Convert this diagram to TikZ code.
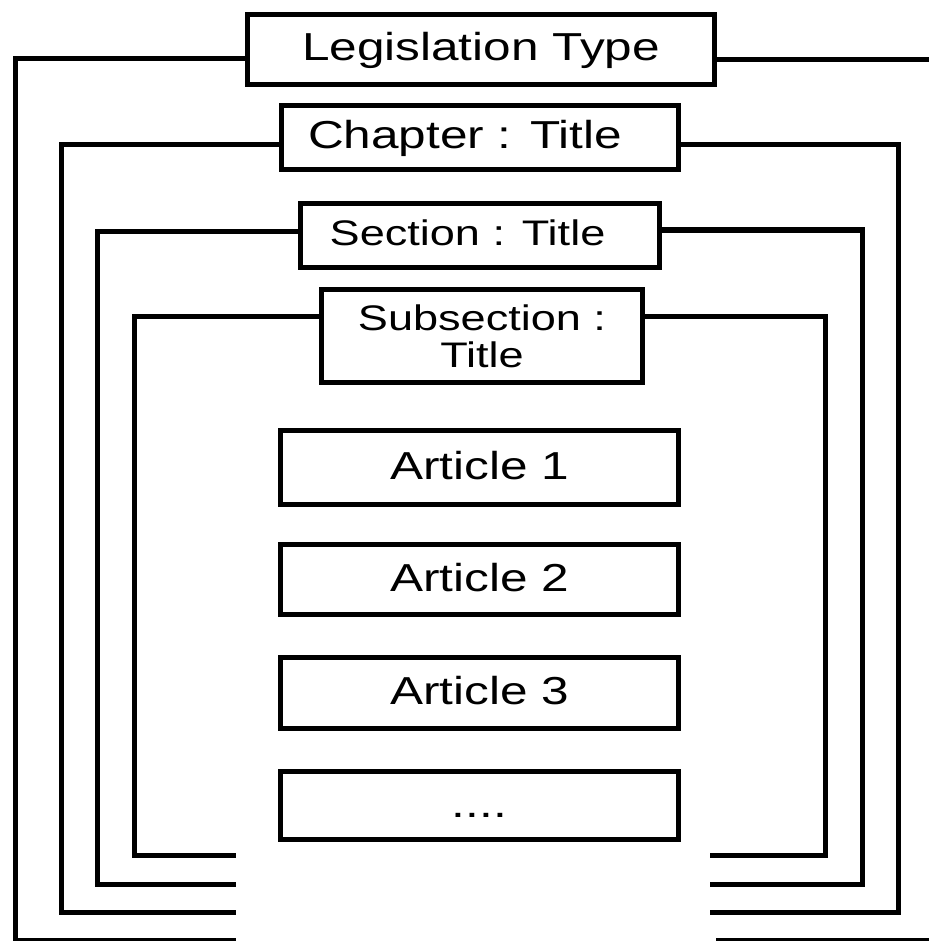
\documentclass[tikz,border=0pt]{standalone}
\usepackage{fontspec}
\setmainfont{Liberation Sans}[FakeStretch=1.27]
\begin{document}
\begin{tikzpicture}[x=1pt,y=-1pt,
  thick line/.style={line width=5pt},
  box/.style={draw, thick line, rectangle, inner sep=0pt, text depth=5pt},
  big/.style={font=\fontsize{39}{47}\selectfont, text height=28pt},
  mid/.style={font=\fontsize{35.5}{37}\selectfont, text height=25.5pt},
  link/.style={thick line}]
\useasboundingbox (0,0) rectangle (929,941);

% nested headings
\node[box, big, minimum width=467pt, minimum height=70pt] (leg)  at (481,49.5)  {Legislation Type};
\node[box, big, minimum width=397pt, minimum height=64pt] (chap) at (480,137.5) {Chapter : Title\kern30pt};
\node[box, mid, minimum width=359pt, minimum height=64pt] (sec)  at (480,235.5) {Section : Title\kern25pt};
\node[draw, thick line, inner sep=0pt, align=center,
      font=\fontsize{35.5}{37}\selectfont,
      minimum width=321pt, minimum height=93pt] (sub) at (482,336) {Subsection :\\Title};

% articles
\node[box, big, minimum width=398pt, minimum height=74pt] (a1) at (479.5,467.5) {Article 1};
\node[box, big, minimum width=398pt, minimum height=70pt] (a2) at (479.5,579.5) {Article 2};
\node[box, big, minimum width=398pt, minimum height=71pt] (a3) at (479.5,693)   {Article 3};
\node[box, big, minimum width=398pt, minimum height=68pt] (a4) at (479.5,805.5) {....};

% bracket corners and open ends
\coordinate (legL)  at (15.5,940);  \coordinate (legBL) at (236,940);
\coordinate (legR)  at (929,59.5);  \coordinate (legBR) at (716,940);
\coordinate (legE)  at (929,940);
\coordinate (chapL) at (61,912.5);  \coordinate (chapBL) at (236,912.5);
\coordinate (chapR) at (898.5,912.5); \coordinate (chapBR) at (709.5,912.5);
\coordinate (secL)  at (97.5,884.5); \coordinate (secBL) at (236,884.5);
\coordinate (secR)  at (862.5,884.5); \coordinate (secBR) at (709.5,884.5);
\coordinate (subL)  at (134.5,855.5); \coordinate (subBL) at (236,855.5);
\coordinate (subR)  at (825.5,855.5); \coordinate (subBR) at (709.5,855.5);

% legislation level
\draw[link] ([yshift=-9.5pt]leg.west) -| (legL) -- (legBL);
\draw[link] ([yshift=-10pt]leg.east) -- (legR);
\draw[link] (legBR) -- (legE);
% chapter level
\draw[link] ([yshift=-7.5pt]chap.west) -| (chapL) -- (chapBL);
\draw[link] ([yshift=-7pt]chap.east) -| (chapR) -- (chapBR);
% section level
\draw[link] ([yshift=4.5pt]sec.west) -| (secL) -- (secBL);
\draw[link] ([yshift=5.5pt]sec.east) -| (secR) -- (secBR);
% subsection level
\draw[link] ([yshift=20pt]sub.west) -| (subL) -- (subBL);
\draw[link] ([yshift=20pt]sub.east) -| (subR) -- (subBR);
\end{tikzpicture}
\end{document}
